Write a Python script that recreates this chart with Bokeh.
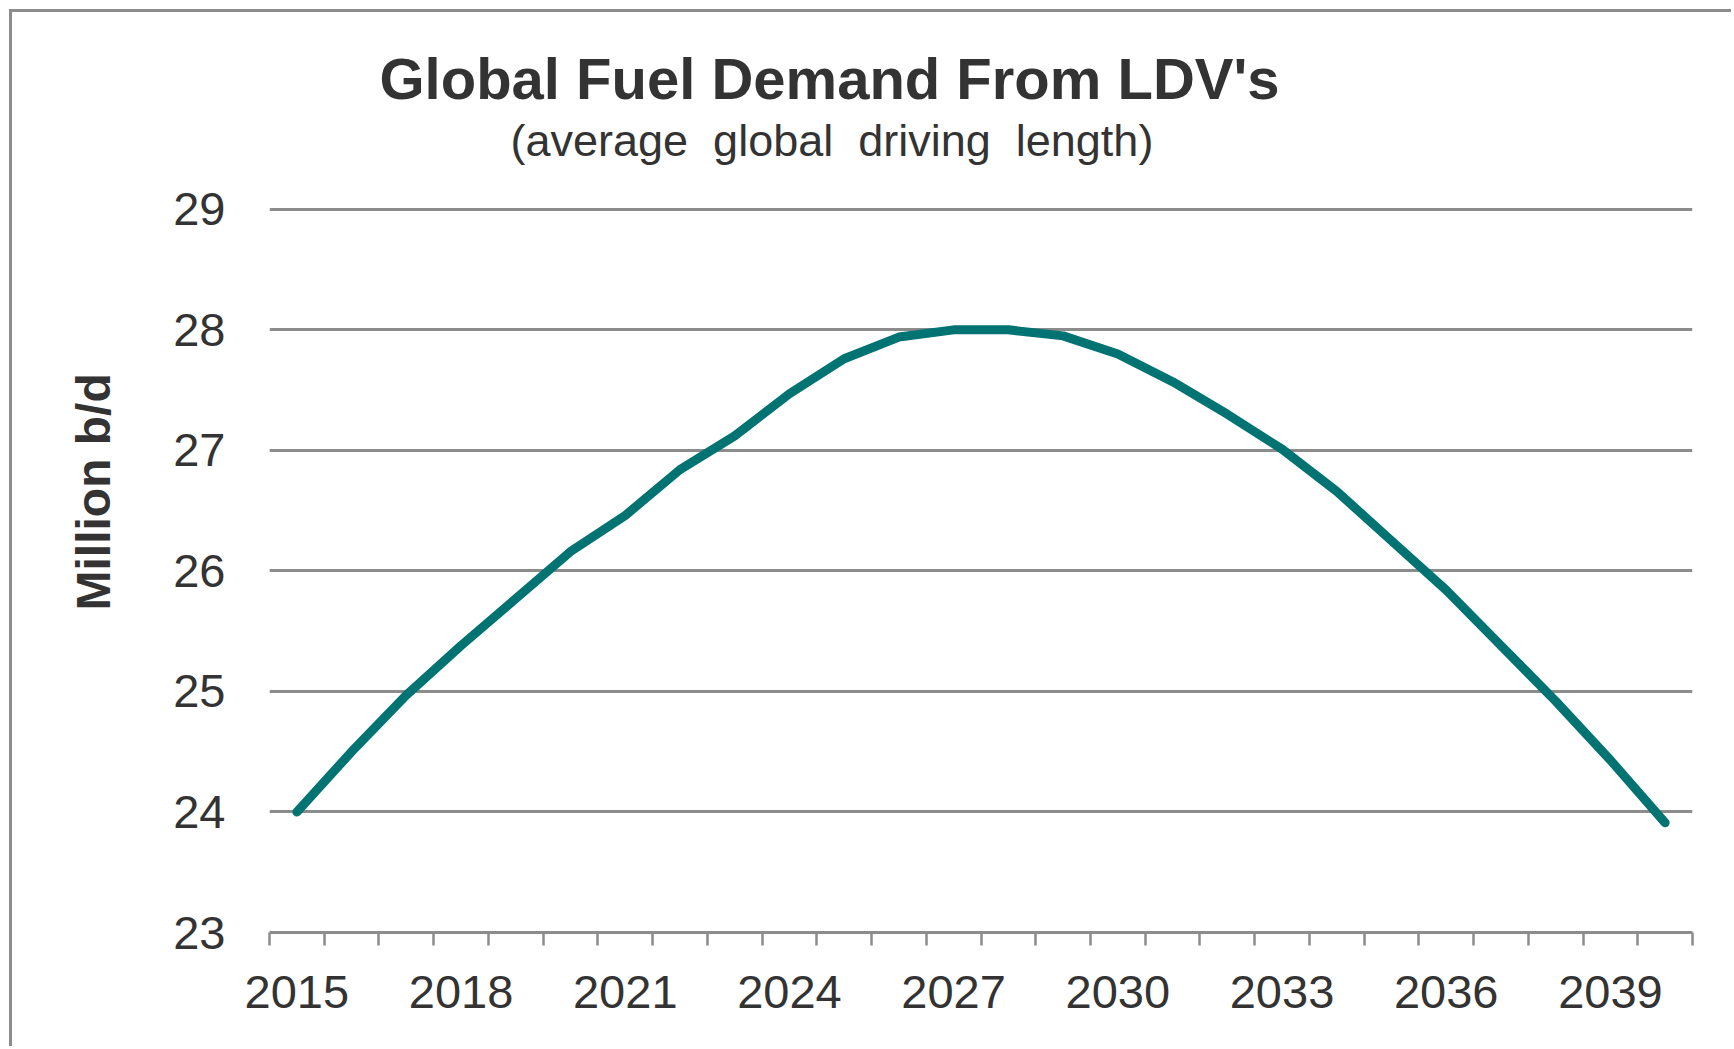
from bokeh.plotting import figure
from bokeh.models import Range1d, FixedTicker, Title
from bokeh.embed import file_html
from bokeh.resources import INLINE

# ---- data ----
years = list(range(2015, 2041))
demand = [24.0, 24.5, 24.97, 25.38, 25.77, 26.16, 26.46, 26.84, 27.12, 27.47,
          27.76, 27.94, 28.0, 28.0, 27.95, 27.80, 27.57, 27.30, 27.01, 26.66,
          26.25, 25.84, 25.38, 24.92, 24.43, 23.91]
x_tick_labels = [2015, 2018, 2021, 2024, 2027, 2030, 2033, 2036, 2039]
y_ticks = [23, 24, 25, 26, 27, 28, 29]

title_text = "Global Fuel Demand From LDV's"
subtitle_text = "(average \u00a0global \u00a0driving \u00a0length)"
y_label_text = "Million b/d"

FONT = "Liberation Sans"
TEXT_COLOR = "#333333"
GRID_COLOR = "#8c8c8c"
LINE_COLOR = "#007372"

p = figure(width=1722, height=1037, output_backend="svg", toolbar_location=None,
           x_range=Range1d(years[0] - 0.5, years[-1] + 0.5),
           y_range=Range1d(y_ticks[0], y_ticks[-1] + 0.015),
           min_border_left=257, min_border_right=42,
           min_border_top=195, min_border_bottom=117)
p.background_fill_color = "white"
p.border_fill_color = "white"
p.outline_line_color = None
p.styles = {"margin-left": "9px", "margin-top": "9px",
            "border-left": "3px solid #8c8c8c", "border-top": "3px solid #8c8c8c",
            "border-right": "none", "border-bottom": "none"}

# line
p.line(years, demand, line_color=LINE_COLOR, line_width=9,
       line_cap="round", line_join="round")

# x axis
boundaries = [y - 0.5 for y in years] + [years[-1] + 0.5]
xa = p.xaxis[0]
xa.ticker = FixedTicker(ticks=x_tick_labels, minor_ticks=boundaries)
xa.axis_line_color = GRID_COLOR
xa.axis_line_width = 3
xa.major_tick_line_color = None
xa.major_tick_out = 0
xa.major_tick_in = 0
xa.minor_tick_line_color = GRID_COLOR
xa.minor_tick_line_width = 2.5
xa.minor_tick_out = 13
xa.minor_tick_in = 0
xa.major_label_text_font = FONT
xa.major_label_text_font_size = "47px"
xa.major_label_text_color = TEXT_COLOR
xa.major_label_standoff = 30

# y axis
ya = p.yaxis[0]
ya.ticker = FixedTicker(ticks=y_ticks)
ya.axis_line_color = None
ya.major_tick_line_color = None
ya.minor_tick_line_color = None
ya.major_tick_out = 0
ya.major_tick_in = 0
ya.major_label_text_font = FONT
ya.major_label_text_font_size = "47px"
ya.major_label_text_color = TEXT_COLOR
ya.major_label_standoff = 44

# grid
p.xgrid.grid_line_color = None
p.ygrid.ticker = FixedTicker(ticks=y_ticks)
p.ygrid.grid_line_color = GRID_COLOR
p.ygrid.grid_line_width = 3

# titles (subtitle first: closest to the frame) and y label
p.add_layout(Title(text=subtitle_text, align="left", offset=241, standoff=83,
                   text_font=FONT, text_font_size="45px",
                   text_font_style="normal", text_color=TEXT_COLOR), "above")
p.add_layout(Title(text=title_text, align="left", offset=110, standoff=-78,
                   text_font=FONT, text_font_size="58px",
                   text_font_style="bold", text_color=TEXT_COLOR), "above")
p.add_layout(Title(text=y_label_text, align="left", offset=322, standoff=101,
                   text_font=FONT, text_font_size="48px",
                   text_font_style="bold", text_color=TEXT_COLOR), "left")

open("out.html", "w").write(file_html(p, INLINE))
